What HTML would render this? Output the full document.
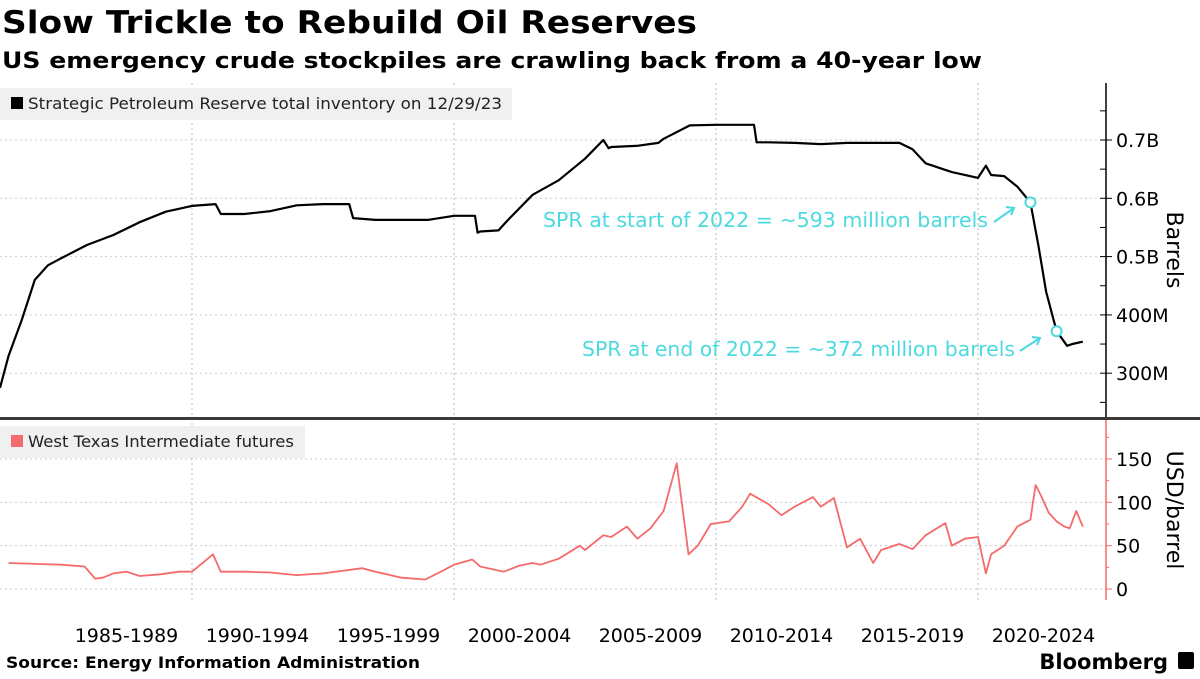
<!DOCTYPE html>
<html><head><meta charset="utf-8"><style>
body{margin:0;background:#fff;width:1200px;height:675px;overflow:hidden;font-family:"DejaVu Sans","Liberation Sans",sans-serif}
svg text{font-family:"DejaVu Sans","Liberation Sans",sans-serif}
</style></head><body>
<svg width="1200" height="675" xmlns="http://www.w3.org/2000/svg">
<text x="2" y="33" font-size="31" font-weight="bold" fill="#000" textLength="695" lengthAdjust="spacingAndGlyphs">Slow Trickle to Rebuild Oil Reserves</text>
<text x="2" y="68" font-size="22" font-weight="bold" fill="#000" textLength="980" lengthAdjust="spacingAndGlyphs">US emergency crude stockpiles are crawling back from a 40-year low</text>
<g id="grid"></g>
<rect x="0" y="88" width="512" height="32" fill="#f0f0f0"/>
<rect x="11" y="97" width="12" height="12" fill="#000"/>
<text x="28" y="109" font-size="16" fill="#222" textLength="474" lengthAdjust="spacingAndGlyphs">Strategic Petroleum Reserve total inventory on 12/29/23</text>
<rect x="0" y="426" width="305" height="32" fill="#f0f0f0"/>
<rect x="11" y="435" width="12" height="12" fill="#f56b6b"/>
<text x="28" y="447" font-size="16" fill="#222" textLength="266" lengthAdjust="spacingAndGlyphs">West Texas Intermediate futures</text>
<g id="axes"></g>
<g id="series"></g>
<rect x="0" y="417" width="1200" height="3" fill="#3a3a3a"/>
<g>
<text x="543" y="227" font-size="20" fill="#4cd9e0" textLength="445" lengthAdjust="spacingAndGlyphs">SPR at start of 2022 = ~593 million barrels</text>
<path d="M994 222 L1014 208 M1006 207 L1014 208 L1011 215" stroke="#4cd9e0" stroke-width="2" fill="none"/>
</g>
<g>
<text x="582" y="356" font-size="20" fill="#4cd9e0" textLength="433" lengthAdjust="spacingAndGlyphs">SPR at end of 2022 = ~372 million barrels</text>
<path d="M1020 351 L1040 338 M1032 337 L1040 338 L1037 345" stroke="#4cd9e0" stroke-width="2" fill="none"/>
</g>
<text x="1173" y="250" font-size="22" fill="#000" transform="rotate(90 1173 250)" text-anchor="middle" dominant-baseline="middle">Barrels</text>
<text x="1173" y="510" font-size="22" fill="#000" transform="rotate(90 1173 510)" text-anchor="middle" dominant-baseline="middle">USD/barrel</text>
<text x="6" y="668" font-size="16" font-weight="bold" fill="#000" textLength="414" lengthAdjust="spacingAndGlyphs">Source: Energy Information Administration</text>
<text x="1168" y="669" font-size="21" font-weight="bold" fill="#000" text-anchor="end">Bloomberg</text>
<rect x="1178" y="652" width="16" height="17" rx="2" fill="#000"/>
</svg>
<script>
const sprYears=[1982.67,1983,1983.5,1984,1984.5,1985,1986,1987,1988,1989,1990,1990.9,1991.1,1992,1993,1994,1995,1996,1996.15,1997,1998,1999,2000,2000.8,2000.9,2001,2001.7,2002,2003,2004,2005,2005.7,2005.9,2006,2007,2007.8,2008,2009,2010,2011,2011.45,2011.55,2012,2013,2014,2015,2016,2017,2017.5,2018,2019,2019.9,2020,2020.3,2020.5,2021,2021.5,2022,2022.3,2022.6,2023,2023.4,2023.6,2024];
const sprValues=[275,330,391,460,485,497,520,537,559,577,587,590,573,573,578,588,590,590,566,563,563,563,570,570,541,543,545,560,606,631,668,700,686,688,690,695,702,725,726,726,726,696,696,695,693,695,695,695,684,660,645,636,635,656,640,638,620,593,520,440,372,347,350,354];
const wtiYears=[1983,1984,1985,1985.9,1986.3,1986.6,1987,1987.5,1988,1988.8,1989.5,1990,1990.6,1990.8,1991.1,1992,1993,1994,1995,1996.5,1997,1998,1998.9,1999.5,2000,2000.7,2001,2001.9,2002.5,2003,2003.3,2004,2004.8,2005,2005.7,2006,2006.6,2007,2007.5,2008,2008.5,2008.95,2009.3,2009.8,2010.5,2011,2011.3,2012,2012.5,2013,2013.7,2014,2014.5,2015,2015.5,2016,2016.3,2017,2017.5,2018,2018.75,2019,2019.5,2020,2020.3,2020.5,2021,2021.5,2022,2022.2,2022.4,2022.7,2023,2023.3,2023.5,2023.75,2024];
const wtiValues=[30,29,28,26,12,13,18,20,15,17,20,20,35,40,20,20,19,16,18,24,20,13,11,20,28,34,26,20,27,30,28,35,50,45,62,60,72,58,70,90,145,40,50,75,78,95,110,98,85,95,106,95,105,48,58,30,45,52,46,62,76,50,58,60,18,40,50,72,80,120,108,88,78,72,70,90,72];
const xTicks=["1985-1989","1990-1994","1995-1999","2000-2004","2005-2009","2010-2014","2015-2019","2020-2024"];
const xTickStarts=[1985,1990,1995,2000,2005,2010,2015,2020];
const sprTicks=[300,400,500,600,700];
const sprTickLabels=["300M","400M","0.5B","0.6B","0.7B"];
const wtiTicks=[0,50,100,150];
const wtiTickLabels=["0","50","100","150"];
const gridYears=[1990,2000,2010,2020];

const NS="http://www.w3.org/2000/svg";
const xS=y=>978+(y-2020)*26.2;
const ySpr=v=>140+(700-v)*0.583;
const yWti=v=>589-v*0.8667;
function mk(tag,attrs,parent){const e=document.createElementNS(NS,tag);for(const k in attrs)e.setAttribute(k,attrs[k]);document.getElementById(parent).appendChild(e);return e;}
gridYears.forEach(y=>{const l=mk('line',{x1:xS(y),x2:xS(y),y1:83,y2:600,stroke:'#bbb','stroke-dasharray':'2,3'},'grid');

});
sprTicks.forEach(v=>{const l=mk('line',{x1:0,x2:1106,y1:ySpr(v),y2:ySpr(v),stroke:'#ccc','stroke-dasharray':'2,3'},'grid');

});
wtiTicks.forEach(v=>{const l=mk('line',{x1:0,x2:1106,y1:yWti(v),y2:yWti(v),stroke:'#ccc','stroke-dasharray':'2,3'},'grid');

});
let a=mk('line',{x1:1106,x2:1106,y1:83,y2:418,stroke:'#000','stroke-width':1.5},'axes');


a=mk('line',{x1:1106,x2:1106,y1:420,y2:600,stroke:'#f56b6b','stroke-width':1.5},'axes');


for(let v=250;v<=750;v+=50){const t=mk('line',{x1:1100,x2:v%100==0?1112:1106,y1:ySpr(v),y2:ySpr(v),stroke:'#000'},'axes');

}
for(let v=0;v<=175;v+=25){const t=mk('line',{x1:1106,x2:v%50==0?1112:1109,y1:yWti(v),y2:yWti(v),stroke:'#f56b6b'},'axes');

}
sprTicks.forEach((v,i)=>{const t=mk('text',{x:1116,y:ySpr(v)+7,'font-size':19,fill:'#000'},'axes');t.textContent=sprTickLabels[i];

});
wtiTicks.forEach((v,i)=>{const t=mk('text',{x:1116,y:yWti(v)+7,'font-size':19,fill:'#000'},'axes');t.textContent=wtiTickLabels[i];

});
xTicks.forEach((lab,i)=>{const t=mk('text',{x:xS(xTickStarts[i]+2.5),y:642,'font-size':19,fill:'#000','text-anchor':'middle'},'axes');t.textContent=lab;

});
let p=mk('path',{d:'M'+sprYears.map((y,i)=>xS(y).toFixed(1)+' '+ySpr(sprValues[i]).toFixed(1)).join(' L'),fill:'none',stroke:'#000','stroke-width':2.2,'stroke-linejoin':'round'},'series');


p=mk('path',{d:'M'+wtiYears.map((y,i)=>xS(y).toFixed(1)+' '+yWti(wtiValues[i]).toFixed(1)).join(' L'),fill:'none',stroke:'#f56b6b','stroke-width':1.8,'stroke-linejoin':'round'},'series');


let c=mk('circle',{cx:xS(2022),cy:ySpr(593),r:5,fill:'#fff',stroke:'#4cd9e0','stroke-width':2},'series');


c=mk('circle',{cx:xS(2023),cy:ySpr(372),r:5,fill:'#fff',stroke:'#4cd9e0','stroke-width':2},'series');


</script>
</body></html>
